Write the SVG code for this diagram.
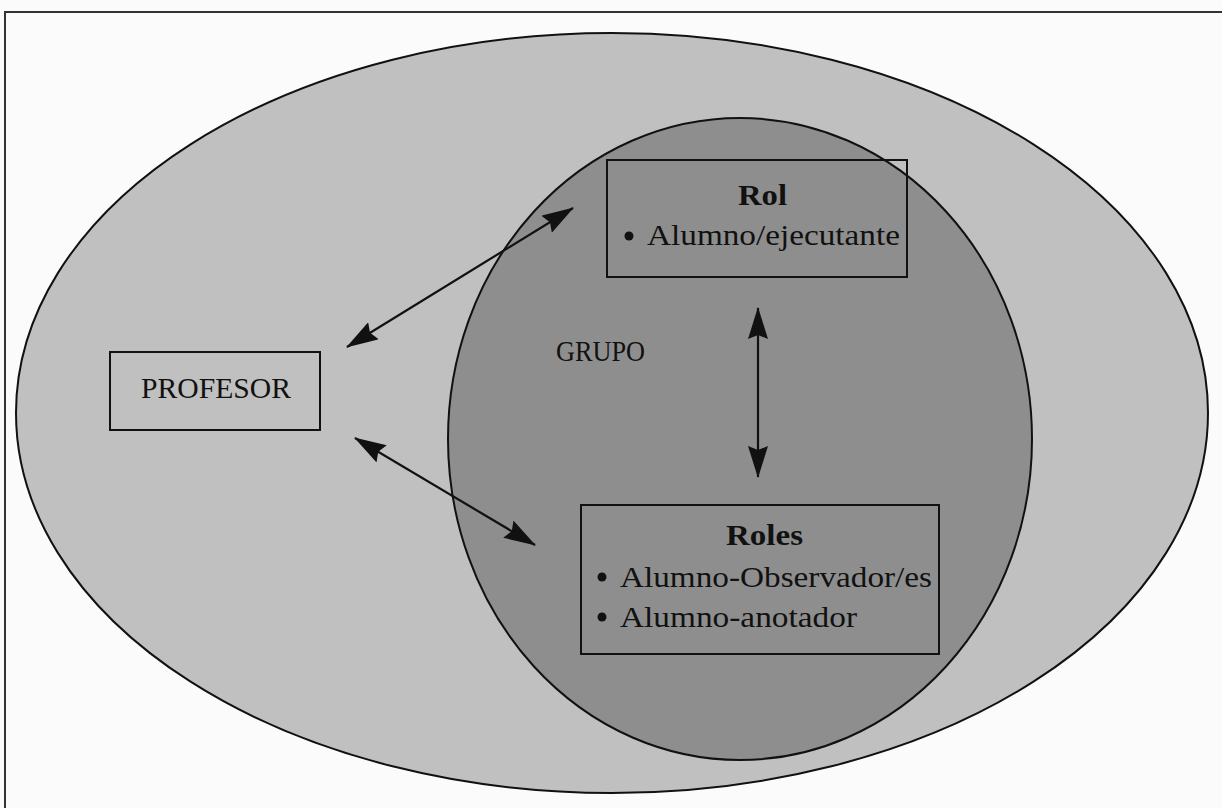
<svg xmlns="http://www.w3.org/2000/svg" width="1222" height="808" viewBox="0 0 1222 808">
<defs>
<style>
.box{fill:none;stroke:#111;stroke-width:2}
.t{font-family:"Liberation Serif","Times New Roman",serif;font-size:29px;fill:#111}
.b{font-weight:bold}
.c{stroke:#111;stroke-width:2.2;fill:none;marker-start:url(#ah);marker-end:url(#ah)}
</style>
<marker id="ah" viewBox="0 0 32 20" refX="31" refY="10" markerWidth="32" markerHeight="20" markerUnits="userSpaceOnUse" orient="auto-start-reverse">
<path d="M0,0 L32,10 L0,20 L4,10 Z" fill="#111"/>
</marker>
</defs>
<rect x="0" y="0" width="1222" height="808" fill="#fbfbfb"/>
<rect x="5" y="12" width="1240" height="820" fill="none" stroke="#333" stroke-width="2"/>
<g id="outer">
<ellipse cx="612" cy="413" rx="596" ry="380" fill="#c0c0c0" stroke="#111" stroke-width="2"/>
</g>
<g id="grupo">
<ellipse cx="740" cy="439" rx="292" ry="321" fill="#8e8e8e" stroke="#111" stroke-width="2"/>
<text class="t" x="556" y="361" textLength="89" lengthAdjust="spacingAndGlyphs">GRUPO</text>
</g>
<g id="profesor">
<rect class="box" x="110" y="352" width="210" height="78"/>
<text class="t" x="141" y="398" textLength="150" lengthAdjust="spacingAndGlyphs">PROFESOR</text>
</g>
<g id="rol">
<rect class="box" x="607" y="160" width="300" height="117"/>
<text class="t b" x="738" y="205" textLength="49" lengthAdjust="spacingAndGlyphs">Rol</text>
<circle cx="629" cy="236" r="4.5" fill="#111"/>
<text class="t" x="647" y="245" textLength="253" lengthAdjust="spacingAndGlyphs">Alumno/ejecutante</text>
</g>
<g id="roles">
<rect class="box" x="581" y="505" width="358" height="149"/>
<text class="t b" x="726" y="545" textLength="77" lengthAdjust="spacingAndGlyphs">Roles</text>
<circle cx="602" cy="577" r="4.5" fill="#111"/>
<text class="t" x="620" y="587" textLength="312" lengthAdjust="spacingAndGlyphs">Alumno-Observador/es</text>
<circle cx="602" cy="617" r="4.5" fill="#111"/>
<text class="t" x="620" y="627" textLength="237" lengthAdjust="spacingAndGlyphs">Alumno-anotador</text>
</g>
<g id="connectors">
<line class="c" x1="347" y1="347" x2="573" y2="208"/>
<line class="c" x1="355" y1="438" x2="535" y2="545"/>
<line class="c" x1="758" y1="308" x2="758" y2="477"/>
</g>
</svg>
